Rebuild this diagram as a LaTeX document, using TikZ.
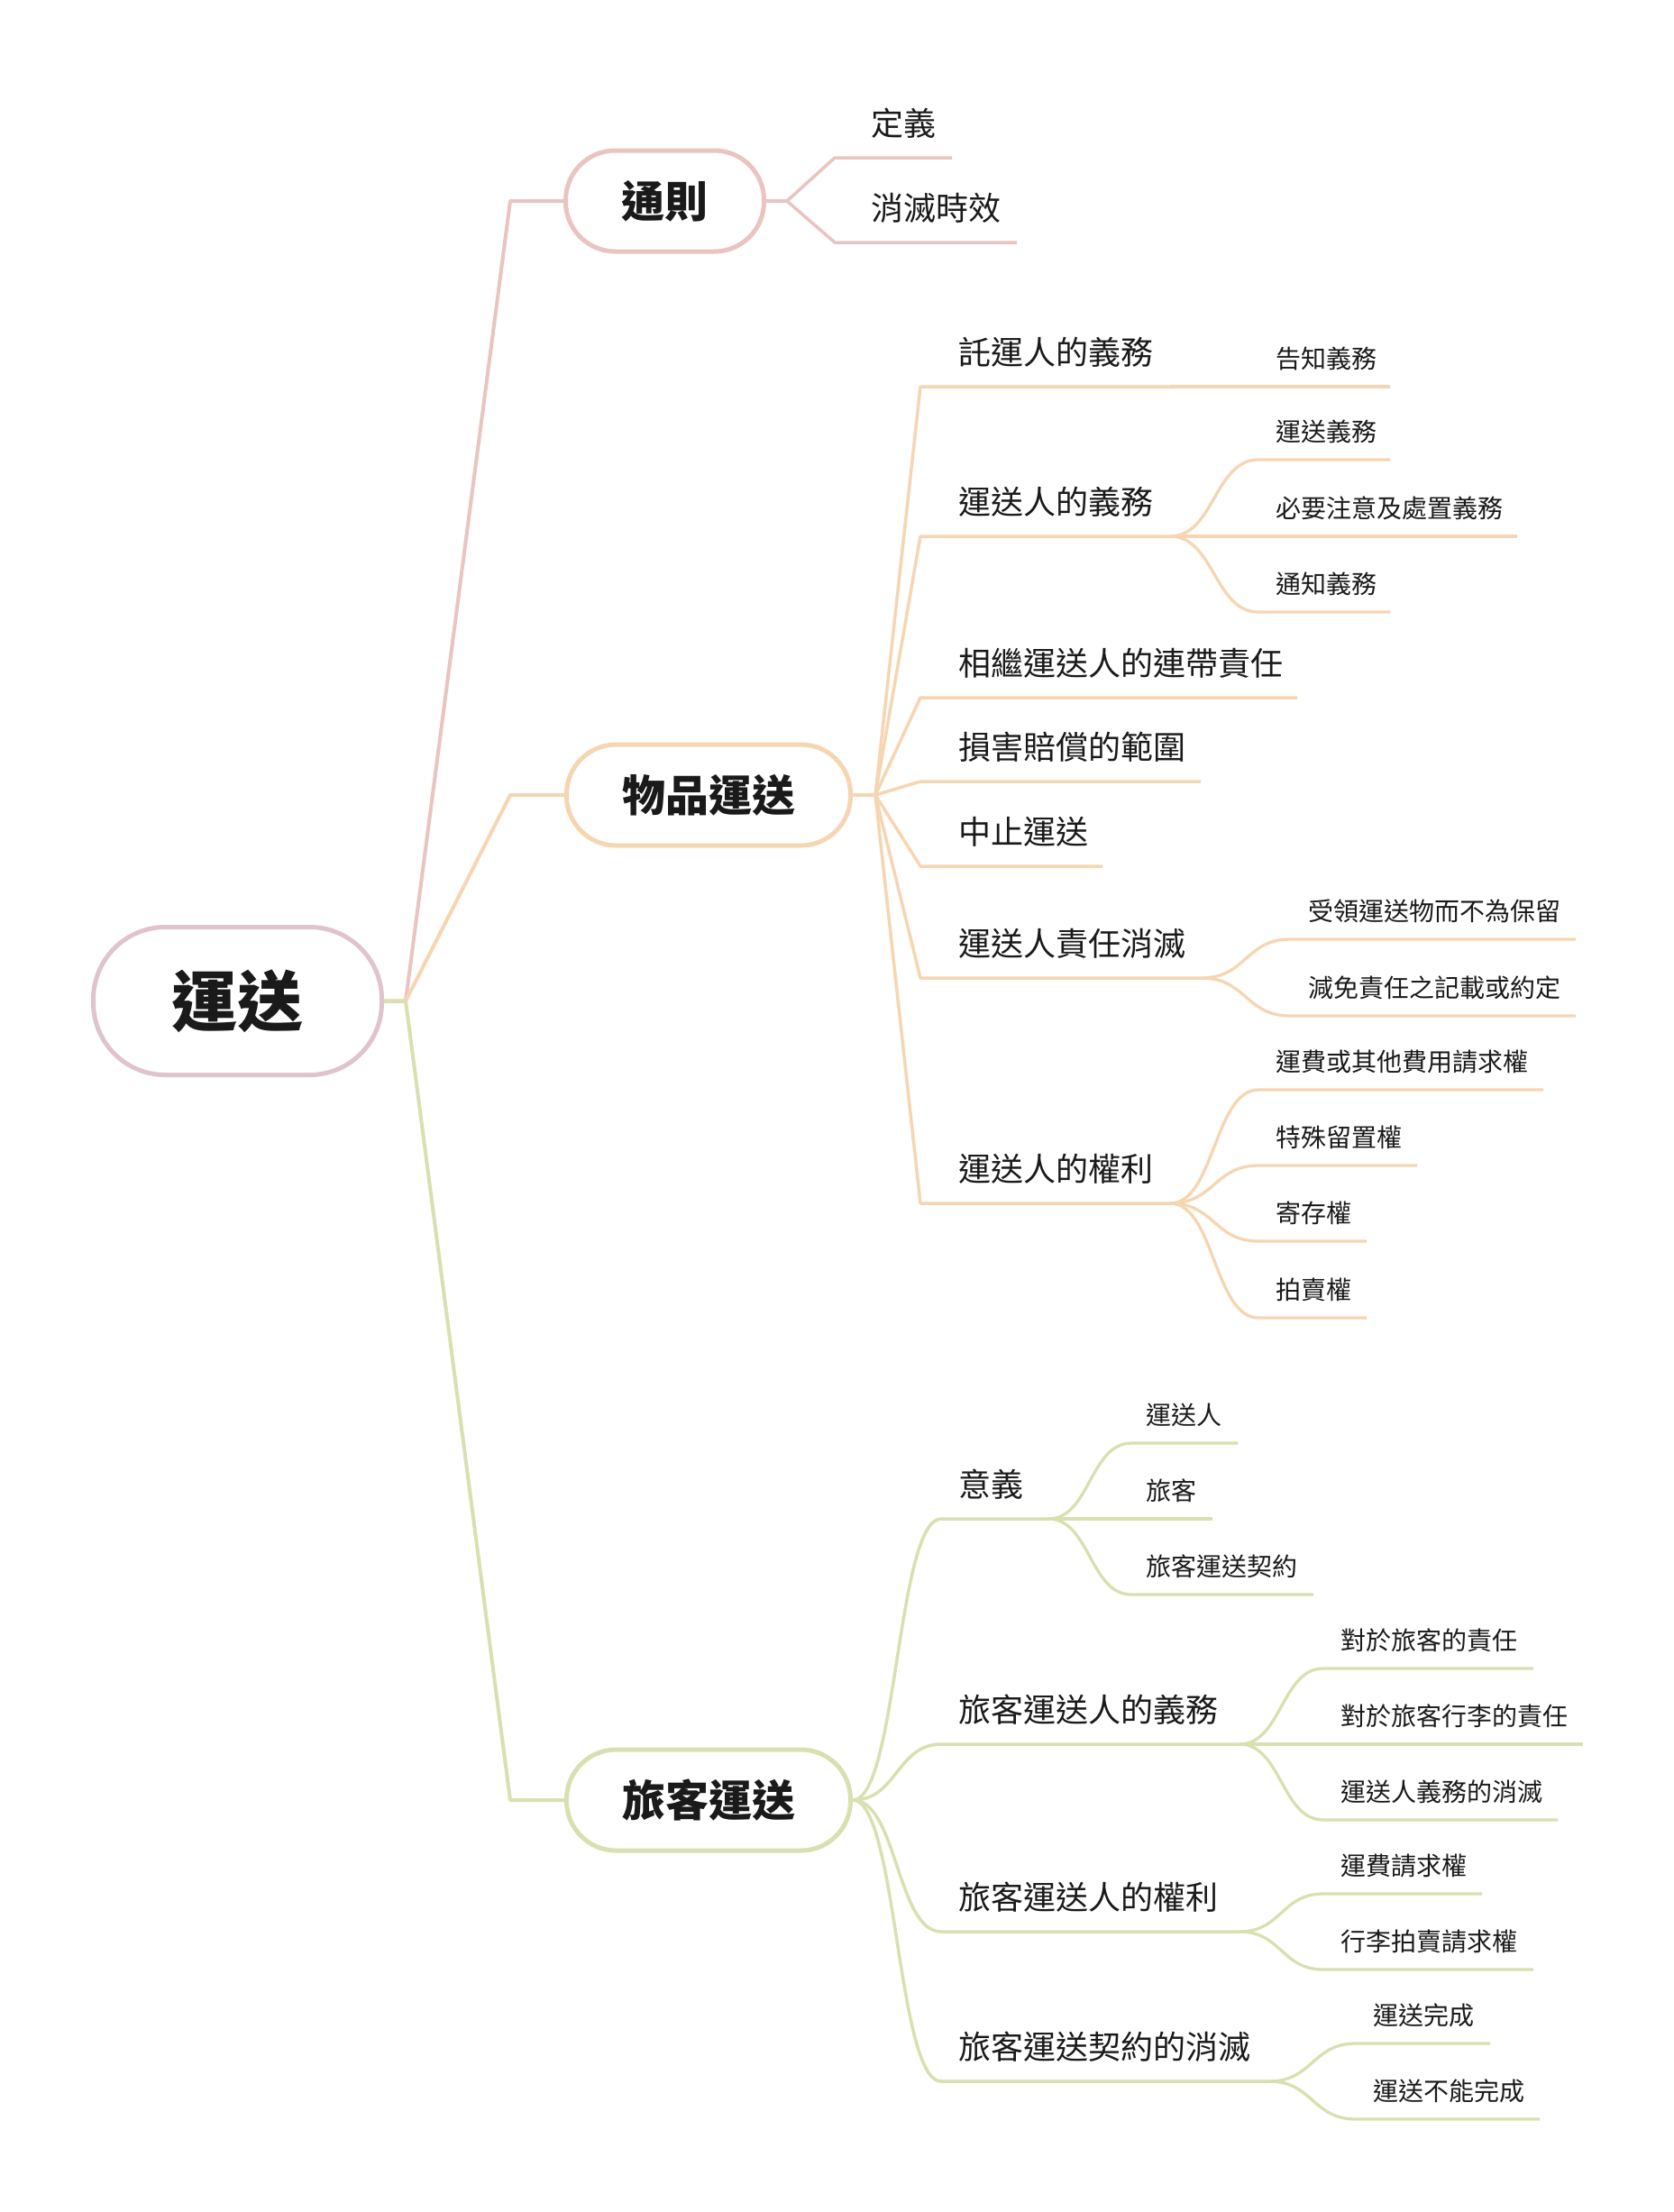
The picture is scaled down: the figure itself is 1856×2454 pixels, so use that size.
\documentclass[tikz,border=0pt]{standalone}
\usepackage{fontspec}
\setmainfont{Noto Sans CJK TC}
\usetikzlibrary{calc}
\definecolor{pinkc}{RGB}{233,196,192}
\definecolor{orangec}{RGB}{246,214,178}
\definecolor{greenc}{RGB}{217,224,176}
\definecolor{rootc}{RGB}{223,196,207}
\definecolor{txtc}{RGB}{26,26,26}
\tikzset{
  rootn/.style={draw=rootc, line width=5pt, rounded corners=80pt, minimum width=320pt, minimum height=164pt, inner sep=0pt, text=txtc, font=\fontsize{73pt}{80pt}\selectfont\bfseries},
  onen/.style={line width=5pt, rounded corners=55pt, minimum height=112pt, inner sep=0pt, text=txtc, font=\fontsize{48pt}{54pt}\selectfont\bfseries},
  lone/.style={line width=4pt, line join=round},
  ltwo/.style={line width=3.5pt, line join=round},
  lthree/.style={line width=3.3pt, line join=round},
  ttwo/.style={anchor=west, inner sep=0pt, text=txtc, font=\fontsize{36pt}{40pt}\selectfont},
  tthree/.style={anchor=west, inner sep=0pt, text=txtc, font=\fontsize{28pt}{32pt}\selectfont}
}
% straight level-2 item
\newcommand\mmtwos[8]{%
  \coordinate (#1s) at (#5,#7);
  \coordinate (#1e) at (#6,#7);
  \node[ttwo] (#1) at (#4,#7-38) {#8};
  \draw[ltwo,#3] (#2) -- (#1s) -- (#1e);
}
% curved level-2 item
\newcommand\mmtwoc[8]{%
  \coordinate (#1s) at (#5,#7);
  \coordinate (#1e) at (#6,#7);
  \node[ttwo] (#1) at (#4,#7-38) {#8};
  \draw[ltwo,#3] let \p1=(#2), \p2=(#1s), \n1={(\x2-\x1)/2} in
    (\p1) .. controls +(\n1,0) and +(-\n1,0) .. (\p2) -- (#1e);
}
% curved level-3 item
\newcommand\mmthree[8]{%
  \coordinate (#1s) at (#5,#7);
  \coordinate (#1e) at (#6,#7);
  \node[tthree] (#1) at (#4,#7-31) {#8};
  \draw[lthree,#3] let \p1=(#2), \p2=(#1s), \n1={(\x2-\x1)/2} in
    (\p1) .. controls +(\n1,0) and +(-\n1,0) .. (\p2) -- (#1e);
}
\begin{document}
\begin{tikzpicture}[x=1pt,y=-1pt]
\useasboundingbox (0,0) rectangle (1856,2454);
\fill[white] (0,0) rectangle (1856,2454);

% main nodes
\node[rootn] (root) at (263.5,1110.5) {運送};
\node[onen, draw=pinkc, minimum width=220pt] (tz) at (737.5,223) {通則};
\node[onen, draw=orangec, minimum width=315pt] (wp) at (786,882) {物品運送};
\node[onen, draw=greenc, minimum width=315pt] (lk) at (786,1997) {旅客運送};

\coordinate (rh) at (450,1110.5);
\coordinate (k1) at (566,223);
\coordinate (k2) at (566,882);
\coordinate (k3) at (566,1997);
\coordinate (tzh) at (873,223);
\coordinate (wph) at (971,882);

% trunks
\draw[lone,pinkc] (root.east) -- (rh) -- (k1) -- (tz.west);
\draw[lone,orangec] (root.east) -- (rh) -- (k2) -- (wp.west);
\draw[lone,greenc] (root.east) -- (rh) -- (k3) -- (lk.west);
\draw[ltwo,pinkc] (tz.east) -- (tzh);
\draw[ltwo,orangec] (wp.east) -- (wph);

% 通則
\mmtwos{a1}{tzh}{pinkc}{966}{926}{1056}{175}{定義}
\mmtwos{a2}{tzh}{pinkc}{966}{926}{1128}{269}{消滅時效}

% 物品運送
\mmtwos{b1}{wph}{orangec}{1063}{1021}{1298}{429}{託運人的義務}
\mmthree{b11}{b1e}{orangec}{1415}{1396}{1542}{429}{告知義務}
\mmtwos{b2}{wph}{orangec}{1063}{1021}{1298}{595}{運送人的義務}
\mmthree{b21}{b2e}{orangec}{1415}{1396}{1542}{510}{運送義務}
\mmthree{b22}{b2e}{orangec}{1415}{1396}{1683}{595}{必要注意及處置義務}
\mmthree{b23}{b2e}{orangec}{1415}{1396}{1542}{679}{通知義務}
\mmtwos{b3}{wph}{orangec}{1063}{1021}{1439}{774}{相繼運送人的連帶責任}
\mmtwos{b4}{wph}{orangec}{1063}{1021}{1332}{867}{損害賠償的範圍}
\mmtwos{b5}{wph}{orangec}{1063}{1021}{1223}{961}{中止運送}
\mmtwos{b6}{wph}{orangec}{1063}{1021}{1333}{1085}{運送人責任消滅}
\mmthree{b61}{b6e}{orangec}{1451}{1431}{1748}{1042}{受領運送物而不為保留}
\mmthree{b62}{b6e}{orangec}{1451}{1431}{1748}{1127}{減免責任之記載或約定}
\mmtwos{b7}{wph}{orangec}{1063}{1021}{1298}{1335}{運送人的權利}
\mmthree{b71}{b7e}{orangec}{1415}{1396}{1712}{1209}{運費或其他費用請求權}
\mmthree{b72}{b7e}{orangec}{1415}{1396}{1572}{1293}{特殊留置權}
\mmthree{b73}{b7e}{orangec}{1415}{1396}{1516}{1377}{寄存權}
\mmthree{b74}{b7e}{orangec}{1415}{1396}{1516}{1462}{拍賣權}

% 旅客運送
\mmtwoc{c1}{lk.east}{greenc}{1063}{1044}{1163}{1685}{意義}
\mmthree{c11}{c1e}{greenc}{1271}{1255}{1373}{1601}{運送人}
\mmthree{c12}{c1e}{greenc}{1271}{1255}{1345}{1685}{旅客}
\mmthree{c13}{c1e}{greenc}{1271}{1255}{1457}{1769}{旅客運送契約}
\mmtwoc{c2}{lk.east}{greenc}{1063}{1044}{1375}{1935}{旅客運送人的義務}
\mmthree{c21}{c2e}{greenc}{1487}{1468}{1701}{1851}{對於旅客的責任}
\mmthree{c22}{c2e}{greenc}{1487}{1468}{1756}{1935}{對於旅客行李的責任}
\mmthree{c23}{c2e}{greenc}{1487}{1468}{1728}{2019}{運送人義務的消滅}
\mmtwoc{c3}{lk.east}{greenc}{1063}{1044}{1375}{2143}{旅客運送人的權利}
\mmthree{c31}{c3e}{greenc}{1487}{1468}{1644}{2101}{運費請求權}
\mmthree{c32}{c3e}{greenc}{1487}{1468}{1701}{2185}{行李拍賣請求權}
\mmtwoc{c4}{lk.east}{greenc}{1063}{1044}{1408}{2309}{旅客運送契約的消滅}
\mmthree{c41}{c4e}{greenc}{1523}{1504}{1653}{2267}{運送完成}
\mmthree{c42}{c4e}{greenc}{1523}{1504}{1708}{2351}{運送不能完成}
\end{tikzpicture}
\end{document}
